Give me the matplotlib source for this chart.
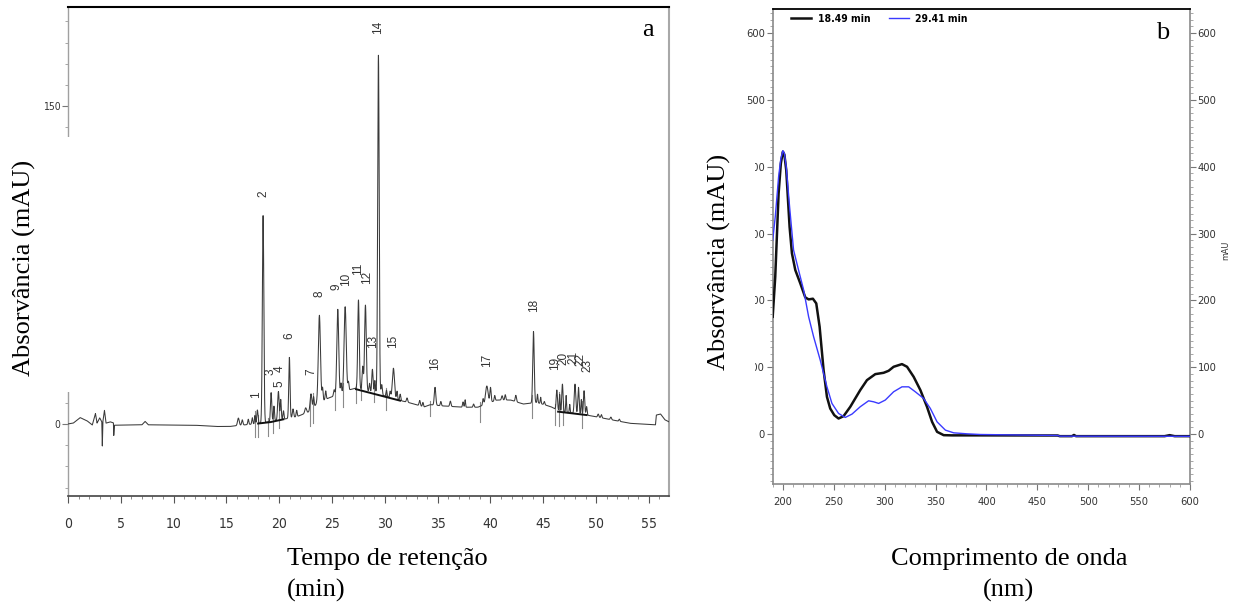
import numpy as np
import matplotlib
matplotlib.use('Agg')
import matplotlib.pyplot as plt
from matplotlib import font_manager as fm
from matplotlib.patches import Rectangle
from matplotlib.ticker import MultipleLocator

names = {f.name for f in fm.fontManager.ttflist}
condensed = [f for f in fm.fontManager.ttflist
             if f.stretch in ('condensed', 'semi-condensed', 'extra-condensed', 500, 300, 400)
             and f.style == 'normal']
if 'Liberation Sans Narrow' in names:
    NARROW, STRETCH = 'Liberation Sans Narrow', 'normal'
elif any(f.name == 'DejaVu Sans' and f.stretch == 'condensed' for f in fm.fontManager.ttflist):
    NARROW, STRETCH = 'DejaVu Sans', 'condensed'
else:
    NARROW, STRETCH = (condensed[0].name, condensed[0].stretch) if condensed else ('DejaVu Sans', 'normal')
SERIF = 'Liberation Serif' if 'Liberation Serif' in names else 'DejaVu Serif'
SANS = 'Liberation Sans' if 'Liberation Sans' in names else 'DejaVu Sans'

# ---------------- Panel a: chromatogram data ----------------
base_t = [0, 0.5, 1.15, 1.8, 2.3, 2.6, 2.75, 3.0, 3.2, 3.25, 3.3, 3.45, 3.6, 4.0, 4.3, 4.33,
          4.4, 7.0, 7.3, 7.6, 12.0, 14.0, 15.3, 16.0, 17.0, 18.2, 20.4, 21.7, 22.9, 23.6,
          24.8, 25.8, 26.7, 27.3, 29.2, 31.1, 32.4, 33.7, 34.3, 35.5, 37.4, 38.8, 40.6,
          41.9, 43.1, 44.4, 45.7, 46.6, 49.1, 50.7, 53.2, 55.62, 55.7, 56.1, 56.5, 56.9]
base_v = [0, 0.4, 3.0, 1.5, -0.5, 4.9, 0.4, 2.9, 1.0, -10.4, 1.0, 6.5, 0.4, 1.0, 0.5, -5.5,
          -0.6, -0.4, 1.2, -0.4, -0.6, -1.2, -1.2, -0.8, -0.3, 0.3, 2.2, 3.5, 5.9, 9.8,
          12.5, 14.1, 16.2, 16.9, 14.3, 11.5, 9.9, 8.0, 9.1, 8.5, 7.9, 7.9, 11.3,
          11.3, 9.4, 10.1, 8.2, 5.8, 4.2, 2.7, 0.3, -0.4, 4.2, 4.7, 2.0, 1.0]

peak_labels = ['1', '2', '3', '4', '5', '6', '7', '8', '9', '10', '11', '12', '13', '14',
               '15', '16', '17', '18', '19', '20', '21', '22', '23']
peak_t = [17.93, 18.47, 19.23, 19.92, 20.14, 20.96, 23.0, 23.8, 25.54, 26.24, 27.5, 28.16,
          28.82, 29.39, 30.81, 34.75, 39.65, 44.07, 46.28, 46.81, 48.0, 48.33, 48.86]
peak_apex = [6.6, 98.3, 14.8, 15.3, 11.5, 31.4, 14.2, 51.3, 54.1, 55.3, 58.5, 56.1,
             25.8, 174.0, 26.3, 17.3, 17.9, 43.6, 16.0, 18.8, 18.8, 17.3, 15.7]
peak_sigma = [0.06, 0.07, 0.06, 0.07, 0.05, 0.06, 0.08, 0.1, 0.09, 0.1, 0.07, 0.08,
              0.06, 0.07, 0.1, 0.07, 0.12, 0.07, 0.06, 0.06, 0.07, 0.06, 0.06]
label_t = [17.8, 18.5, 19.15, 20.05, 20.05, 20.98, 23.07, 23.8, 25.45, 26.3, 27.5, 28.35,
           28.85, 29.39, 30.81, 34.75, 39.7, 44.13, 46.15, 46.95, 47.85, 48.5, 49.15]
label_v = [13.7, 108.5, 24.7, 26.0, 19.0, 41.6, 24.7, 61.4, 64.8, 68.0, 73.0, 69.0,
           38.8, 187.0, 38.8, 28.6, 30.2, 56.1, 28.6, 31.0, 31.5, 30.2, 27.8]

# small unlabelled peaks: time, height above baseline, width
minor_t = [16.13, 16.5, 17.07, 17.45, 17.7, 19.5, 20.4, 21.3, 21.65, 22.5, 23.25, 24.1,
           24.4, 25.2, 25.85, 26.55, 27.9, 28.55, 29.05, 29.7, 30.15, 30.5, 31.15, 31.45,
           32.1, 33.3, 33.6, 35.3, 36.2, 37.4, 37.6, 38.4, 39.3, 40.0, 40.4, 41.1, 41.4,
           42.4, 44.45, 44.75, 45.1, 46.55, 47.16, 47.5, 48.6, 49.1, 50.2, 50.5, 51.4, 52.2]
minor_h = [3.5, 2.5, 2.5, 3.0, 4.0, 7, 4, 4, 3, 2.5, 5, 6, 4, 3, 5, 4, 11, 4, 6, 5, 3, 3,
           4, 3, 2, 2.5, 2, 2, 2.5, 2.5, 3.5, 1.5, 3, 7, 2.5, 2, 2.5, 3, 4, 3, 1.5, 8, 8,
           4, 7, 4, 1.5, 1.5, 1.2, 1]
minor_w = [0.08, 0.06, 0.05, 0.05, 0.04, 0.05, 0.05, 0.06, 0.05, 0.08, 0.05, 0.05, 0.05,
           0.06, 0.05, 0.05, 0.06, 0.05, 0.05, 0.06, 0.05, 0.05, 0.05, 0.05, 0.06, 0.06,
           0.05, 0.05, 0.06, 0.05, 0.04, 0.05, 0.05, 0.06, 0.05, 0.06, 0.05, 0.06, 0.04,
           0.04, 0.05, 0.04, 0.04, 0.04, 0.04, 0.05, 0.06, 0.05, 0.06, 0.05]

# integration baselines
segA_t = [18.0, 19.2, 20.4]
segA_v = [0.2, 0.9, 2.2]
segB_t = [27.27, 31.44]
segB_v = [16.4, 11.0]
segC_t = [46.4, 49.1]
segC_v = [5.8, 4.2]

# peak delimiter marks (time, lower end)
drop_t = [17.71, 18.02, 18.91, 19.44, 20.01, 22.92, 23.23, 25.28, 26.01, 27.27, 27.75,
          28.98, 30.11, 34.28, 39.01, 43.9, 46.12, 46.53, 46.91, 48.64]
drop_v = [-6.0, -6.0, -5.7, -4.1, -2.0, -1.2, 0.3, 6.6, 7.9, 9.9, 11.4, 10.2, 6.6, 3.7,
          1.1, 2.7, -0.4, -1.2, -0.4, -2.0]

# ---------------- Panel b: UV spectra ----------------
wl_black = [190, 192.5, 195.8, 198, 200, 201.5, 203.3, 206.6, 208.9, 212.2, 217.1, 222,
            225.3, 229.5, 232.8, 236.1, 240, 243.3, 246.5, 250.5, 254.7, 259.6, 266.2, 276,
            282.6, 290.8, 299, 303.9, 308.8, 317, 322, 328.5, 335.1, 341.6, 346.6, 351.5,
            358, 366.2, 394, 470, 472, 484, 486, 488, 575, 580, 585, 600]
ab_black = [175.6, 235.5, 360, 405, 422.6, 418, 395, 310, 270.5, 245.5, 225.6, 204.6,
            201.6, 202.6, 195.6, 160.6, 95.8, 55.8, 38.4, 28.4, 23.4, 26.9, 40.9, 65.9,
            80.8, 89.8, 91.8, 94.8, 100.8, 104.8, 100.8, 85.8, 65.9, 40.9, 18.4, 3.5,
            -1.5, -1.8, -1.8, -2.0, -3.0, -3.0, -1.2, -3.0, -3.0, -1.5, -3.0, -3.0]
wl_blue = [190, 192.5, 195.8, 198, 200, 201.5, 203.3, 206.6, 210.5, 215.4, 220.4, 225.3,
           230.2, 236.7, 243.3, 248.2, 254.7, 261.3, 267.9, 276, 284.2, 289.2, 294.1, 300.6,
           308.8, 317, 323.6, 330.1, 338.3, 344.9, 351.5, 359.7, 367.8, 380.9, 394, 470,
           472, 600]
ab_blue = [290, 325, 385, 412, 424, 420, 400, 340, 275.4, 245.5, 215.6, 175.6, 145.7,
           110.8, 70.8, 46, 31, 25, 30, 41, 49.9, 48.4, 46, 51, 63.4, 70.8, 70.8, 63.4,
           53.4, 38.4, 18.4, 6, 2, 0.5, -0.5, -2.0, -3.0, -3.2]
series_names = ['18.49 min', '29.41 min']

# ---------------- figure ----------------
W, H = 1240, 608
fig = plt.figure(figsize=(W / 100, H / 100), dpi=100)


def fx(x):
    return x / W


def fy(y):
    return 1 - y / H


def narrowify(labels):
    for lab in labels:
        lab.set_family(NARROW)
        lab.set_stretch(STRETCH)


# ---- panel a ----
axA = fig.add_axes([fx(68), fy(496), (669 - 68) / W, (496 - 6.5) / H])
t = np.linspace(0, 56.9, 9000)
trace = np.interp(t, base_t, base_v)
for pt, pv, pw in zip(peak_t, peak_apex, peak_sigma):
    amp = pv - np.interp(pt, base_t, base_v)
    trace = trace + amp * np.exp(-0.5 * ((t - pt) / pw) ** 2)
for mt, mh, mw in zip(minor_t, minor_h, minor_w):
    trace = trace + mh * np.exp(-0.5 * ((t - mt) / mw) ** 2)

for dt, dv in zip(drop_t, drop_v):
    top = np.interp(dt, t, trace) + 2
    axA.plot([dt, dt], [dv, top], color='#8a8a8a', lw=0.8, zorder=2)
axA.plot(t, trace, color='#3a3a3a', lw=0.75, zorder=3)
for st, sv in ((segA_t, segA_v), (segB_t, segB_v), (segC_t, segC_v)):
    axA.plot(st, sv, color='#111111', lw=1.4, zorder=4)
for lab, lt, lv in zip(peak_labels, label_t, label_v):
    axA.text(lt, lv, lab, rotation=90, ha='center', va='center', fontsize=8.5,
             family=SANS, color='#333333', zorder=5)

axA.set_xlim(0, 56.9)
axA.set_ylim(-34, 197)
axA.xaxis.set_major_locator(MultipleLocator(5))
axA.xaxis.set_minor_locator(MultipleLocator(1))
axA.set_yticks([0, 150])
axA.yaxis.set_minor_locator(MultipleLocator(10))
axA.tick_params(axis='x', which='major', direction='out', length=5, width=0.8,
                color='#555555', labelsize=10, pad=10, labelcolor='#333333')
axA.tick_params(axis='x', which='minor', direction='out', length=2.5, width=0.6,
                color='#777777')
axA.tick_params(axis='y', which='major', direction='out', length=4, width=0.8,
                color='#777777', labelsize=7.5, pad=1.5, labelcolor='#333333')
axA.tick_params(axis='y', which='minor', direction='out', length=2.5, width=0.6,
                color='#999999')
narrowify(axA.get_xticklabels() + axA.get_yticklabels())
axA.spines['top'].set_color('#000000')
axA.spines['top'].set_linewidth(1.5)
axA.spines['right'].set_color('#a8a8a8')
axA.spines['right'].set_linewidth(1.5)
axA.spines['left'].set_color('#a0a0a0')
axA.spines['left'].set_linewidth(1.0)
axA.spines['bottom'].set_color('#444444')
axA.spines['bottom'].set_linewidth(1.2)

# ---- panel b ----
axB = fig.add_axes([fx(772.7), fy(484.3), (1190 - 772.7) / W, (484.3 - 9) / H])
axB.plot(wl_black, ab_black, color='#111111', lw=1.8, label=series_names[0], zorder=3)
axB.plot(wl_blue, ab_blue, color='#3a3aff', lw=1.0, label=series_names[1], zorder=4)
axB.set_xlim(190, 600)
axB.set_ylim(-75, 636)
axB.xaxis.set_major_locator(MultipleLocator(50))
axB.xaxis.set_minor_locator(MultipleLocator(10))
axB.yaxis.set_minor_locator(MultipleLocator(10))
axB.set_yticks([0, 100, 200, 300, 400, 500, 600])
axB.tick_params(axis='both', which='major', direction='out', length=4, width=0.8,
                color='#777777', labelsize=8, labelcolor='#333333')
axB.tick_params(axis='both', which='minor', direction='out', length=2, width=0.6,
                color='#999999')
axB.tick_params(axis='y', which='both', right=True, labelright=True, pad=1.5)
axB.tick_params(axis='x', which='major', pad=5)
narrowify(axB.get_xticklabels() + axB.get_yticklabels())
narrowify([tk.label2 for tk in axB.yaxis.get_major_ticks()])
for s in ('left', 'bottom', 'right'):
    axB.spines[s].set_color('#8a8a8a')
    axB.spines[s].set_linewidth(1.2)
axB.spines['top'].set_color('#000000')
axB.spines['top'].set_linewidth(1.3)
leg = axB.legend(loc='center left', bbox_to_anchor=(0.045, 0.979), ncol=2, frameon=False,
                 borderpad=0, borderaxespad=0, handlelength=1.9, handletextpad=0.6,
                 columnspacing=1.8,
                 prop={'family': NARROW, 'stretch': STRETCH, 'weight': 'bold', 'size': 7.5})

# white boxes of the pasted axis titles
fig.add_artist(Rectangle((0, fy(392)), fx(71), (392 - 137) / H, transform=fig.transFigure,
                         facecolor='white', edgecolor='none', zorder=1))
fig.add_artist(Rectangle((fx(690), fy(410)), (755 - 690) / W, (410 - 130) / H,
                         transform=fig.transFigure, facecolor='white', edgecolor='none',
                         zorder=1))

# ---- texts ----
fig.text(fx(24), fy(268), 'Absorvância (mAU)', rotation=90, ha='center', va='center',
         fontsize=19, family=SERIF)
fig.text(fx(719), fy(262), 'Absorvância (mAU)', rotation=90, ha='center', va='center',
         fontsize=19, family=SERIF)
fig.text(fx(287), fy(565), 'Tempo de retenção', ha='left', va='baseline', fontsize=19,
         family=SERIF)
fig.text(fx(287), fy(597), '(min)', ha='left', va='baseline', fontsize=19, family=SERIF)
fig.text(fx(1009), fy(565), 'Comprimento de onda', ha='center', va='baseline', fontsize=19,
         family=SERIF)
fig.text(fx(1009), fy(597), '(nm)', ha='center', va='baseline', fontsize=19, family=SERIF)
fig.text(fx(648), fy(30), 'a', ha='center', va='center', fontsize=19, family=SERIF)
fig.text(fx(1163), fy(33), 'b', ha='center', va='center', fontsize=19, family=SERIF)
fig.text(fx(1226), fy(250), 'mAU', rotation=90, ha='center', va='center', fontsize=6.5,
         family=NARROW, stretch=STRETCH, color='#333333')

fig.savefig('out.png', dpi=100)
